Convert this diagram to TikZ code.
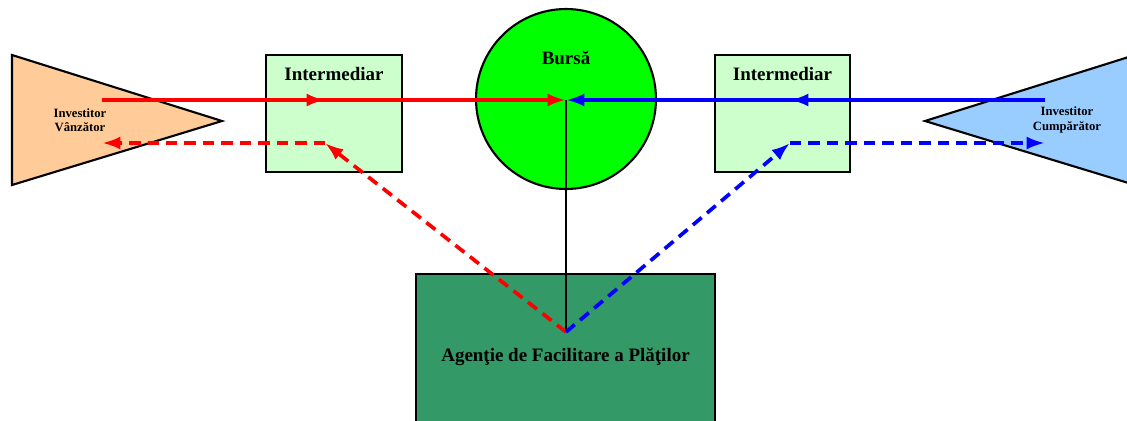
\documentclass[tikz,border=0pt]{standalone}
\usepackage{fontspec}
\setmainfont{Liberation Serif}
\usetikzlibrary{positioning,arrows.meta}
\definecolor{peach}{HTML}{FFCC99}
\definecolor{skyblue}{HTML}{99CCFF}
\definecolor{palegreen}{HTML}{CCFFCC}
\definecolor{brightgreen}{HTML}{00FF00}
\definecolor{seagreen}{HTML}{339966}
\begin{document}
\begin{tikzpicture}[x=0.02cm, y=-0.02cm,
        shapeline/.style={draw=black, line width=1.2pt},
        boxtitle/.style={font=\bfseries\fontsize{10.8}{12}\selectfont, inner sep=0pt},
        smalltitle/.style={font=\bfseries\fontsize{7.2}{8.2}\selectfont, align=center, inner sep=0pt},
        flow/.style={line width=2.1pt, -{Latex[length=10.5pt, width=7.5pt]}},
        payflow/.style={flow, dash pattern=on 6.5pt off 4pt}]
    \useasboundingbox (0,0) rectangle (1127,420);
    \clip (0,0) rectangle (1127,420);
    % investitori
    \draw[shapeline, fill=peach] (12,55) -- (222,121) -- (12,185) -- cycle;
    \draw[shapeline, fill=skyblue] (1135,55) -- (925,121) -- (1135,185) -- cycle;
    \node[smalltitle] (vanzator) at (80,120) {Investitor\\Vânzător};
    \node[smalltitle] (cumparator) at (1067,120) {Investitor\\Cumpărător};
    % intermediari, bursa, agentia
    \node[shapeline, fill=palegreen, minimum width=2.72cm, minimum height=2.34cm] (intst) at (334,113.5) {};
    \node[shapeline, fill=palegreen, minimum width=2.7cm, minimum height=2.34cm] (intdr) at (782.5,113.5) {};
    \node[boxtitle, below=0.26cm of intst.north] (intsttext) {Intermediar};
    \node[boxtitle, below=0.26cm of intdr.north] (intdrtext) {Intermediar};
    \node[shapeline, circle, fill=brightgreen, minimum size=3.6cm] (bursa) at (566,99) {};
    \node[boxtitle] (bursatext) at (566,58) {Bursă};
    \node[shapeline, fill=seagreen, minimum width=5.98cm, minimum height=3.32cm, boxtitle] (agentie) at (565.5,357) {Agenţie de Facilitare a Plăţilor};
    % puncte de legatura
    \coordinate (vsrc) at (102,100);
    \coordinate (vret) at (102,143);
    \coordinate (lsus) at (325,100);
    \coordinate (ljos) at (325,143);
    \coordinate (centru) at (566,100);
    \coordinate (rsus) at (790,100);
    \coordinate (rjos) at (790,143);
    \coordinate (csrc) at (1045,100);
    \coordinate (cret) at (1045,143);
    \coordinate (plata) at (566,332);
    % ordine
    \draw[black, line width=1.2pt] (centru) -- (plata);
    \draw[flow, red] (vsrc) -- (centru);
    \draw[flow, red] (vsrc) -- (lsus);
    \draw[flow, blue] (csrc) -- (centru);
    \draw[flow, blue] (csrc) -- (rsus);
    % decontare
    \draw[payflow, red] (plata) -- (ljos);
    \draw[payflow, red] (ljos) -- (vret);
    \draw[payflow, blue] (plata) -- (rjos);
    \draw[payflow, blue] (rjos) -- (cret);
\end{tikzpicture}
\end{document}
